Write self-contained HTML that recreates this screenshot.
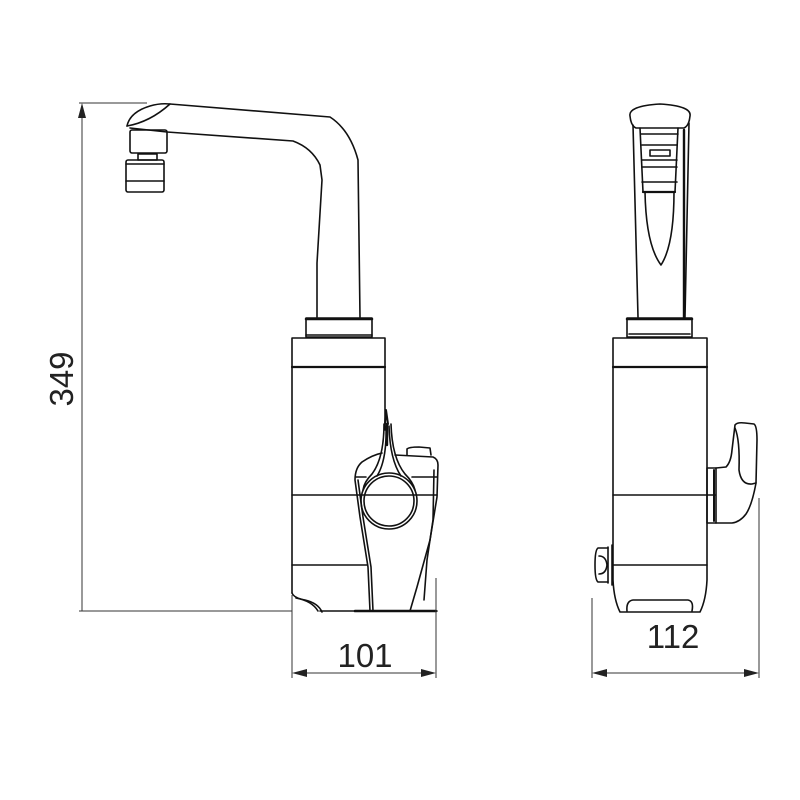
<!DOCTYPE html>
<html><head><meta charset="utf-8"><style>
html,body{margin:0;padding:0;background:#fff;width:800px;height:800px;overflow:hidden}
text{font-family:"Liberation Sans",sans-serif;fill:#222}
</style></head><body>
<svg width="800" height="800" viewBox="0 0 800 800" xmlns="http://www.w3.org/2000/svg">
<g fill="none" stroke="#111" stroke-width="1.6" stroke-linejoin="round" stroke-linecap="round">
<!-- LEFT VIEW: spout -->
<path d="M127,126 Q130,112 150,106 Q160,103 170,104 L330,117 Q350,130 358,160 L360,317"/>
<path d="M127,126 Q150,122 170,104"/>
<path d="M130,128 L167,132 L293,141 Q312,148 320,165 L322,180 L317,263 L317,317"/>
<!-- aerator -->
<rect x="130" y="130" width="37" height="23" rx="2"/>
<rect x="138" y="154" width="19" height="6"/>
<rect x="126" y="160" width="38" height="32" rx="2"/>
<line x1="126" y1="164" x2="164" y2="164"/>
<line x1="126" y1="181" x2="164" y2="181"/>
<!-- collar and body -->
<rect x="306" y="318" width="66" height="19"/>
<line x1="306" y1="319" x2="372" y2="319" stroke-width="2.5"/>
<line x1="306" y1="335" x2="372" y2="335"/>
<path d="M292,593 L292,338 L385,338 L385,430"/>
<line x1="292" y1="367" x2="385" y2="367" stroke-width="2.2"/>
<path d="M292,593 Q294,598 305,600 Q318,603 322,612"/>
<path d="M296,598 Q312,601 318,611"/>
<line x1="292" y1="495" x2="437" y2="495"/>
<line x1="292" y1="565" x2="367" y2="565"/>
<line x1="320" y1="611" x2="437" y2="611"/>
<line x1="355" y1="611" x2="436" y2="611" stroke-width="2.6"/>
<!-- handle housing -->
<path d="M370,611 L368,567 L360,517 L355,480 Q355,468 362,462 Q372,455 382,453"/>
<path d="M373,611 L371,567 L363,517 L358,480"/>
<path d="M395,455 L433,457 Q438,459 438,465 L437,497 L430,540 L417,587 L410,611"/>
<path d="M434,470 L433,520 L427,560 L424,600"/>
<path d="M407,455 L407,449 Q409,447 419,447 L430,448 L431,455"/>
<line x1="356" y1="477" x2="366" y2="477"/>
<line x1="412" y1="477" x2="437" y2="477"/>
<!-- lever -->
<path d="M384,424 Q384,458 372,474 Q364,482 363,490"/>
<path d="M391,424 Q392,458 405,474 Q413,482 415,490"/>
<path d="M386,426 Q387,460 377,476"/>
<path d="M389,426 Q390,460 401,476"/>
<circle cx="389" cy="501" r="28"/>
<circle cx="389" cy="501" r="25"/>
<path d="M385,424 L386,410 L388,424" stroke-width="2"/>
<line x1="387" y1="424" x2="387" y2="445" stroke-width="2.4"/>
<!-- RIGHT VIEW -->
<path d="M630,116 Q628,106 660,104 Q692,106 690,116 Q689,126 684,128 L636,128 Q631,126 630,116 Z"/>
<path d="M633,125 L638,317"/>
<path d="M689,123 L685,317"/>
<path d="M684,318 L684,130" stroke-width="2.4"/>
<path d="M640,128 L643,192 M678,128 L675,192"/>
<line x1="641" y1="134" x2="678" y2="134"/>
<line x1="642" y1="145" x2="677" y2="145"/>
<line x1="642" y1="160" x2="677" y2="160"/>
<rect x="650" y="150" width="20" height="6"/>
<line x1="642" y1="167" x2="677" y2="167"/>
<line x1="642" y1="182" x2="677" y2="182"/>
<line x1="643" y1="192" x2="675" y2="192" stroke-width="2.2"/>
<path d="M645,192 Q646,245 661,265 Q674,245 674,192"/>
<rect x="627" y="318" width="65" height="19"/>
<line x1="627" y1="319" x2="692" y2="319" stroke-width="2.5"/>
<line x1="629" y1="334" x2="690" y2="334"/>
<path d="M613,580 L613,338 L707,338 L707,580 Q706,600 700,612 L620,612 Q614,600 613,580 Z"/>
<line x1="613" y1="367" x2="707" y2="367" stroke-width="2.2"/>
<line x1="613" y1="495" x2="715" y2="495"/>
<line x1="613" y1="565" x2="707" y2="565"/>
<path d="M627,611 Q626,601 633,600 L688,600 Q694,601 692,611"/>
<!-- knob -->
<path d="M612,545 L612,585 M608,547 L608,583"/>
<path d="M608,548 L598,548 Q595,550 595,565 Q595,580 598,582 L608,582"/>
<path d="M599,556 Q606,556 607,565 Q606,574 599,574"/>
<!-- side handle -->
<rect x="707" y="468" width="9" height="55"/>
<line x1="714" y1="470" x2="714" y2="521" stroke-width="2"/>
<path d="M716,468 L726,467 Q731,462 732,450 L735,425 Q737,422 745,423 L754,424 Q757,426 757,440 L756,483 Q752,505 746,514 Q740,522 732,523 L716,523"/>
<path d="M735,428 Q740,440 739,470 Q741,485 752,484 L756,483"/>
</g>
<!-- dimension lines -->
<g stroke="#333" stroke-width="1" fill="none">
<line x1="79" y1="103" x2="147" y2="103"/>
<line x1="82" y1="106" x2="82" y2="611"/>
<line x1="79" y1="611" x2="292" y2="611"/>
<line x1="292" y1="595" x2="292" y2="678"/>
<line x1="436" y1="578" x2="436" y2="678"/>
<line x1="295" y1="673" x2="433" y2="673"/>
<line x1="592" y1="598" x2="592" y2="678"/>
<line x1="759" y1="498" x2="759" y2="678"/>
<line x1="595" y1="673" x2="756" y2="673"/>
</g>
<g fill="#222">
<path d="M82,103 L78,118 L86,118 Z"/>
<path d="M292,673 L307,669 L307,677 Z"/>
<path d="M436,673 L421,669 L421,677 Z"/>
<path d="M592,673 L607,669 L607,677 Z"/>
<path d="M759,673 L744,669 L744,677 Z"/>
</g>
<text x="365" y="667" font-size="33" text-anchor="middle">101</text>
<text x="673" y="648" font-size="33" text-anchor="middle">112</text>
<text transform="translate(73,379) rotate(-90)" font-size="33" text-anchor="middle">349</text>
</svg>
</body></html>
